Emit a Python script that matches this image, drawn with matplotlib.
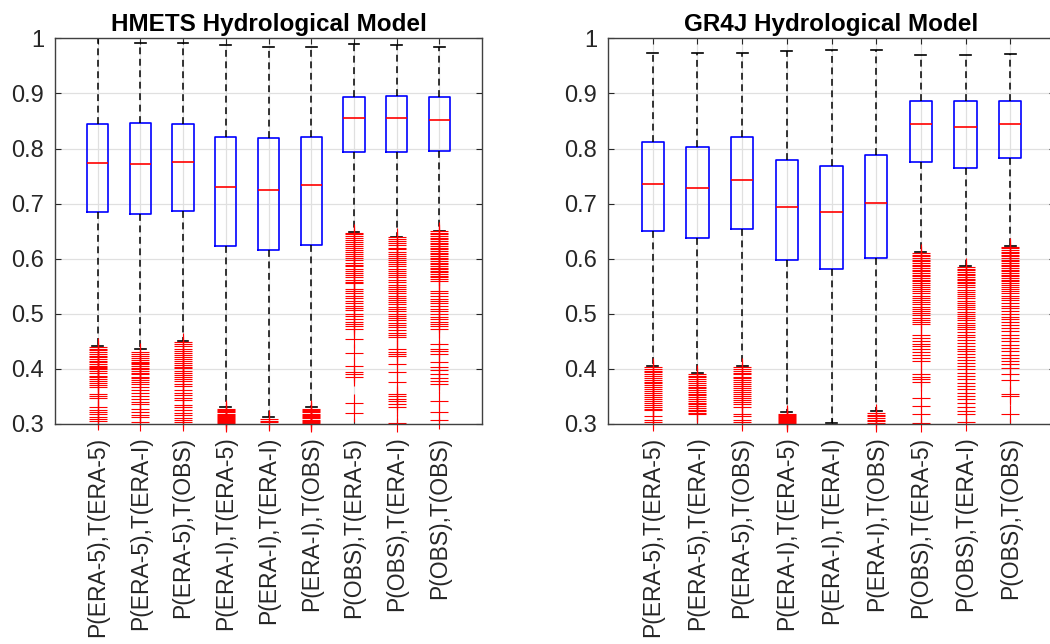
import matplotlib
matplotlib.use('Agg')
import matplotlib.pyplot as plt

plt.rcParams['font.family'] = ['Liberation Sans', 'DejaVu Sans']

labels = ['P(ERA-5),T(ERA-5)', 'P(ERA-5),T(ERA-I)', 'P(ERA-5),T(OBS)',
          'P(ERA-I),T(ERA-5)', 'P(ERA-I),T(ERA-I)', 'P(ERA-I),T(OBS)',
          'P(OBS),T(ERA-5)', 'P(OBS),T(ERA-I)', 'P(OBS),T(OBS)']

# ---------------- HMETS ----------------
hmets_med = [0.774, 0.772, 0.775, 0.730, 0.725, 0.733, 0.855, 0.856, 0.852]
hmets_q1 = [0.684, 0.681, 0.687, 0.623, 0.615, 0.624, 0.794, 0.793, 0.796]
hmets_q3 = [0.845, 0.846, 0.845, 0.820, 0.819, 0.821, 0.893, 0.895, 0.893]
hmets_whislo = [0.442, 0.436, 0.451, 0.330, 0.313, 0.330, 0.648, 0.640, 0.651]
hmets_whishi = [1.000, 0.991, 0.991, 0.988, 0.985, 0.984, 0.990, 0.988, 0.984]

hmets_out1 = [0.440, 0.437, 0.434, 0.431, 0.427, 0.424, 0.421, 0.418, 0.415, 0.412,
              0.409, 0.406, 0.404, 0.402, 0.399, 0.396, 0.392, 0.388, 0.385, 0.381,
              0.378, 0.374, 0.370, 0.367, 0.355, 0.350, 0.347, 0.330, 0.326, 0.321,
              0.318, 0.313, 0.309, 0.306]
hmets_out2 = [0.430, 0.427, 0.423, 0.419, 0.416, 0.413, 0.410, 0.408, 0.405, 0.402,
              0.399, 0.396, 0.393, 0.390, 0.386, 0.383, 0.380, 0.376, 0.373, 0.368,
              0.362, 0.356, 0.351, 0.345, 0.340, 0.336, 0.327, 0.322, 0.316, 0.312,
              0.303]
hmets_out3 = [0.448, 0.445, 0.441, 0.437, 0.433, 0.429, 0.425, 0.421, 0.418, 0.414,
              0.410, 0.407, 0.404, 0.401, 0.397, 0.393, 0.389, 0.386, 0.382, 0.378,
              0.373, 0.369, 0.362, 0.357, 0.352, 0.347, 0.343, 0.335, 0.330, 0.325,
              0.320, 0.316, 0.311, 0.307, 0.304]
hmets_out4 = [0.327, 0.325, 0.323, 0.321, 0.319, 0.317, 0.315, 0.313, 0.311, 0.309,
              0.307, 0.305, 0.303, 0.301]
hmets_out5 = [0.309, 0.306, 0.304]
hmets_out6 = [0.328, 0.326, 0.323, 0.321, 0.319, 0.317, 0.315, 0.312, 0.310, 0.308,
              0.306, 0.304, 0.302]
hmets_out7 = [0.647, 0.644, 0.641, 0.637, 0.634, 0.630, 0.626, 0.623, 0.620, 0.616,
              0.612, 0.609, 0.605, 0.601, 0.597, 0.593, 0.589, 0.586, 0.582, 0.578,
              0.574, 0.570, 0.566, 0.562, 0.558, 0.555, 0.545, 0.541, 0.537, 0.533,
              0.528, 0.524, 0.519, 0.515, 0.511, 0.506, 0.500, 0.496, 0.491, 0.486,
              0.481, 0.477, 0.473, 0.455, 0.429, 0.406, 0.394, 0.390, 0.385, 0.339,
              0.320]
hmets_out8 = [0.639, 0.636, 0.632, 0.628, 0.624, 0.620, 0.617, 0.613, 0.609, 0.605,
              0.601, 0.598, 0.594, 0.590, 0.586, 0.582, 0.578, 0.574, 0.570, 0.566,
              0.562, 0.558, 0.553, 0.549, 0.545, 0.541, 0.537, 0.533, 0.529, 0.525,
              0.521, 0.517, 0.513, 0.509, 0.505, 0.500, 0.496, 0.492, 0.488, 0.484,
              0.480, 0.476, 0.471, 0.466, 0.462, 0.458, 0.436, 0.431, 0.427, 0.424,
              0.409, 0.394, 0.376, 0.355, 0.350, 0.346, 0.341, 0.336, 0.331, 0.302]
hmets_out9 = [0.650, 0.647, 0.644, 0.641, 0.638, 0.635, 0.632, 0.629, 0.626, 0.623,
              0.620, 0.617, 0.614, 0.611, 0.608, 0.605, 0.602, 0.599, 0.596, 0.593,
              0.590, 0.587, 0.584, 0.581, 0.578, 0.575, 0.572, 0.569, 0.566, 0.563,
              0.560, 0.542, 0.537, 0.532, 0.527, 0.523, 0.519, 0.514, 0.509, 0.505,
              0.500, 0.495, 0.490, 0.486, 0.481, 0.477, 0.473, 0.445, 0.436, 0.432,
              0.427, 0.412, 0.403, 0.398, 0.390, 0.384, 0.378, 0.373, 0.342, 0.321,
              0.307]

# ---------------- GR4J ----------------
gr4j_med = [0.736, 0.728, 0.742, 0.694, 0.685, 0.701, 0.844, 0.839, 0.845]
gr4j_q1 = [0.650, 0.638, 0.654, 0.597, 0.581, 0.601, 0.776, 0.765, 0.782]
gr4j_q3 = [0.811, 0.803, 0.820, 0.780, 0.768, 0.788, 0.887, 0.886, 0.887]
gr4j_whislo = [0.405, 0.393, 0.405, 0.321, 0.302, 0.323, 0.612, 0.586, 0.623]
gr4j_whishi = [0.974, 0.974, 0.974, 0.977, 0.978, 0.978, 0.970, 0.970, 0.972]

gr4j_out1 = [0.403, 0.400, 0.397, 0.394, 0.390, 0.387, 0.384, 0.380, 0.377, 0.374,
             0.370, 0.367, 0.364, 0.360, 0.356, 0.352, 0.349, 0.345, 0.341, 0.338,
             0.334, 0.330, 0.327, 0.325, 0.315, 0.307, 0.303]
gr4j_out2 = [0.391, 0.388, 0.385, 0.381, 0.378, 0.375, 0.371, 0.368, 0.365, 0.362,
             0.358, 0.355, 0.352, 0.349, 0.345, 0.342, 0.339, 0.336, 0.332, 0.329,
             0.326, 0.323, 0.320, 0.318]
gr4j_out3 = [0.403, 0.400, 0.397, 0.393, 0.390, 0.386, 0.383, 0.379, 0.376, 0.372,
             0.369, 0.365, 0.362, 0.358, 0.354, 0.351, 0.347, 0.343, 0.340, 0.336,
             0.331, 0.319, 0.314, 0.308, 0.303]
gr4j_out4 = [0.319, 0.317, 0.315, 0.313, 0.311, 0.309, 0.307, 0.305, 0.303, 0.301]
gr4j_out5 = []
gr4j_out6 = [0.320, 0.317, 0.314, 0.311, 0.308, 0.305, 0.302]
gr4j_out7 = [0.610, 0.607, 0.604, 0.601, 0.598, 0.595, 0.592, 0.589, 0.586, 0.583,
             0.580, 0.577, 0.574, 0.571, 0.568, 0.565, 0.562, 0.559, 0.556, 0.553,
             0.549, 0.545, 0.541, 0.537, 0.533, 0.529, 0.525, 0.521, 0.517, 0.513,
             0.509, 0.505, 0.501, 0.497, 0.493, 0.489, 0.485, 0.482, 0.461, 0.456,
             0.451, 0.446, 0.441, 0.436, 0.431, 0.425, 0.420, 0.415, 0.391, 0.386,
             0.381, 0.376, 0.348, 0.333, 0.318, 0.301]
gr4j_out8 = [0.585, 0.582, 0.579, 0.576, 0.573, 0.570, 0.567, 0.564, 0.561, 0.558,
             0.555, 0.552, 0.548, 0.544, 0.540, 0.536, 0.532, 0.528, 0.524, 0.520,
             0.516, 0.512, 0.508, 0.504, 0.500, 0.496, 0.492, 0.488, 0.484, 0.480,
             0.476, 0.472, 0.467, 0.462, 0.457, 0.452, 0.447, 0.442, 0.437, 0.432,
             0.427, 0.422, 0.417, 0.411, 0.405, 0.399, 0.393, 0.387, 0.381, 0.375,
             0.369, 0.363, 0.357, 0.351, 0.345, 0.338, 0.331, 0.324, 0.318, 0.303]
gr4j_out9 = [0.622, 0.619, 0.616, 0.613, 0.610, 0.607, 0.604, 0.601, 0.598, 0.595,
             0.592, 0.589, 0.586, 0.583, 0.580, 0.577, 0.574, 0.571, 0.568, 0.565,
             0.562, 0.559, 0.556, 0.553, 0.549, 0.545, 0.541, 0.537, 0.533, 0.529,
             0.525, 0.520, 0.515, 0.510, 0.505, 0.500, 0.495, 0.490, 0.485, 0.480,
             0.474, 0.468, 0.462, 0.456, 0.450, 0.444, 0.438, 0.432, 0.426, 0.420,
             0.414, 0.408, 0.402, 0.391, 0.380, 0.355, 0.350, 0.318]

hmets_out = [hmets_out1, hmets_out2, hmets_out3, hmets_out4, hmets_out5,
             hmets_out6, hmets_out7, hmets_out8, hmets_out9]
gr4j_out = [gr4j_out1, gr4j_out2, gr4j_out3, gr4j_out4, gr4j_out5,
            gr4j_out6, gr4j_out7, gr4j_out8, gr4j_out9]

yticks = [0.3, 0.4, 0.5, 0.6, 0.7, 0.8, 0.9, 1.0]
ytick_labels = ['0.3', '0.4', '0.5', '0.6', '0.7', '0.8', '0.9', '1']


def make_stats(med, q1, q3, lo, hi, out):
    return [dict(med=med[i], q1=q1[i], q3=q3[i], whislo=lo[i], whishi=hi[i],
                 fliers=out[i], label=labels[i]) for i in range(len(labels))]


def draw(ax, stats, title):
    pos = list(range(1, len(stats) + 1))
    art = ax.bxp(stats, positions=pos, widths=0.5, capwidths=0.25,
                 showfliers=True, patch_artist=False,
                 boxprops=dict(color='#0000ff', lw=1.2),
                 medianprops=dict(color='#ff0000', lw=1.2),
                 whiskerprops=dict(color='black', lw=1.1, ls=(0, (4.5, 3))),
                 capprops=dict(color='black', lw=1.2),
                 flierprops=dict(marker='+', markeredgecolor='#ff0000',
                                 markersize=13.5, markeredgewidth=0.8,
                                 linestyle='none'))
    for f in art['fliers']:
        f.set_clip_on(False)
    ax.set_xlim(0, 10)
    ax.set_ylim(0.3, 1.0)
    ax.set_xticks(pos)
    ax.set_xticklabels(labels, rotation=90, fontsize=16.5, color='0.15')
    ax.set_yticks(yticks)
    ax.set_yticklabels(ytick_labels, fontsize=17, color='0.15')
    ax.tick_params(axis='x', direction='in', top=True, bottom=True,
                   length=4, color='0.15', pad=9)
    ax.tick_params(axis='y', direction='in', left=True, right=True,
                   length=4, color='0.15', pad=8)
    ax.grid(True, color='0.88', lw=0.9)
    ax.set_axisbelow(True)
    for s in ax.spines.values():
        s.set_color('0.25')
        s.set_linewidth(1.0)
    ax.set_title(title, fontsize=17.5, fontweight='bold', pad=5)


fig = plt.figure(figsize=(10.5, 6.44), dpi=100)
W, H = 1050, 644
ax1 = fig.add_axes([55 / W, 1 - 424 / H, 427 / W, 385.7 / H])
ax2 = fig.add_axes([608 / W, 1 - 424 / H, 447 / W, 385.7 / H])

draw(ax1, make_stats(hmets_med, hmets_q1, hmets_q3, hmets_whislo, hmets_whishi,
                     hmets_out), 'HMETS Hydrological Model')
draw(ax2, make_stats(gr4j_med, gr4j_q1, gr4j_q3, gr4j_whislo, gr4j_whishi,
                     gr4j_out), 'GR4J Hydrological Model')

fig.savefig('out.png', dpi=100)
